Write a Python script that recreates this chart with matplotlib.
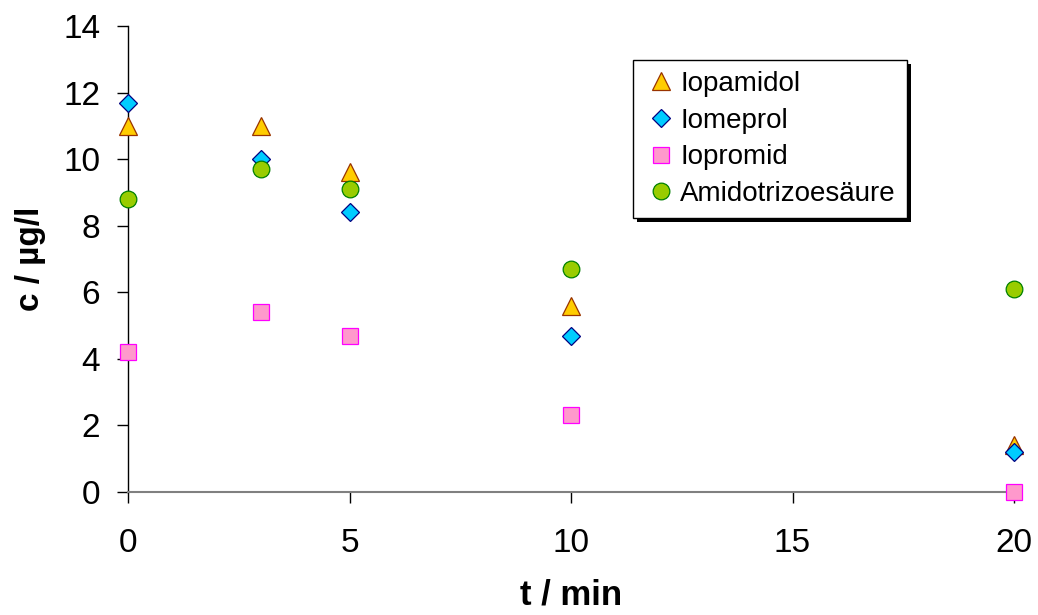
import matplotlib
matplotlib.use("Agg")
import matplotlib.pyplot as plt
import matplotlib.patheffects as pe

plt.rcParams['font.family'] = ['Liberation Sans', 'DejaVu Sans']

# Sampling times (min)
t = [0, 3, 5, 10, 20]

# Concentrations (µg/l)
iopamidol = [11.0, 11.0, 9.6, 5.6, 1.4]
iomeprol = [11.7, 10.0, 8.4, 4.7, 1.2]
iopromid = [4.2, 5.4, 4.7, 2.3, 0.0]
amidotrizoesaeure = [8.8, 9.7, 9.1, 6.7, 6.1]

series = [
    ("Iopamidol", iopamidol, "^", "#FFCC00", "#993300", 13),
    ("Iomeprol", iomeprol, "D", "#00CCFF", "#000080", 9.5),
    ("Iopromid", iopromid, "s", "#FF99CC", "#FF00FF", 11.5),
    ("Amidotrizoesäure", amidotrizoesaeure, "o", "#99CC00", "#008000", 12),
]

fig = plt.figure(figsize=(10.38, 6.15), dpi=100)
ax = fig.add_axes([128 / 1038, 0.2, 886 / 1038, 0.7577])

for label, vals, marker, fc, ec, ms in series:
    ax.plot(t, vals, linestyle="none", marker=marker, markersize=ms,
            markerfacecolor=fc, markeredgecolor=ec, markeredgewidth=0.9,
            label=label, clip_on=False, zorder=3)

ax.set_xlim(0, 20)
ax.set_ylim(0, 14)
ax.set_xticks([0, 5, 10, 15, 20])
ax.set_yticks(range(0, 15, 2))

ax.spines['top'].set_visible(False)
ax.spines['right'].set_visible(False)
ax.spines['left'].set_color('black')
ax.spines['left'].set_linewidth(1.0)
ax.spines['bottom'].set_color('#808080')
ax.spines['bottom'].set_linewidth(1.5)

ax.tick_params(axis='both', direction='out', length=8, width=1.0,
               color='black', labelsize=24)
ax.tick_params(axis='x', pad=18)
ax.tick_params(axis='y', pad=12)

ax.set_xlabel("t / min", fontsize=25, fontweight='bold', labelpad=14)
ax.set_ylabel("c / µg/l", fontsize=24, fontweight='bold', labelpad=12)

leg = ax.legend(loc='upper left', bbox_to_anchor=(0.570, 0.927),
                fontsize=20, frameon=True, fancybox=False, shadow=False,
                framealpha=1.0, borderpad=0.4, labelspacing=0.38,
                handletextpad=0.1, handlelength=1.2, borderaxespad=0.0)
frame = leg.get_frame()
frame.set_edgecolor('black')
frame.set_linewidth(1.0)
frame.set_facecolor('white')
frame.set_path_effects([pe.SimplePatchShadow(offset=(3, -3), shadow_rgbFace='black', alpha=1.0),
                        pe.Normal()])

fig.savefig("out.png", dpi=100)
